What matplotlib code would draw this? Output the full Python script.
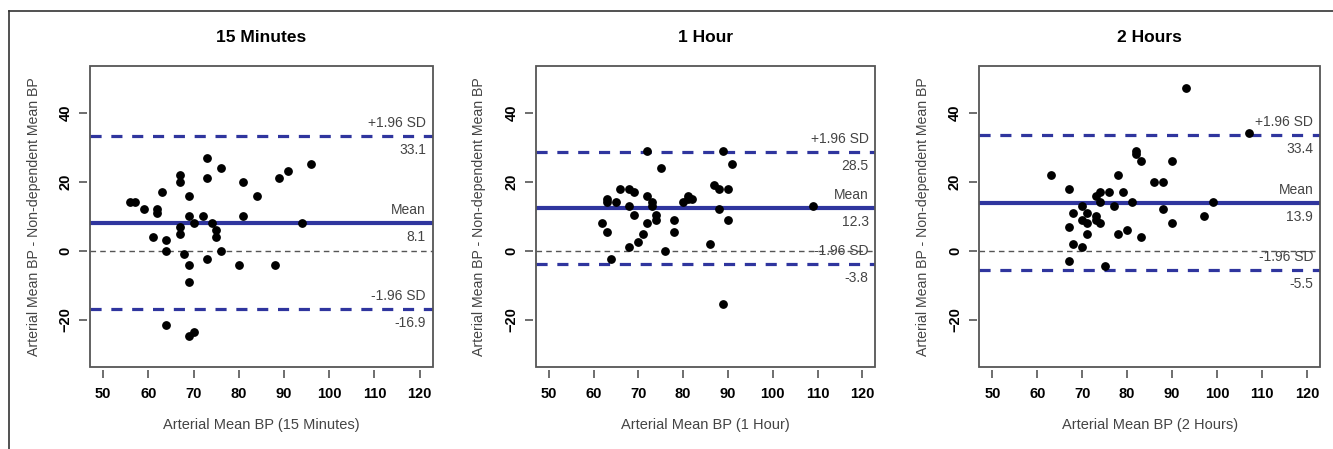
import numpy as np
import matplotlib
matplotlib.use('Agg')
import matplotlib.pyplot as plt
from matplotlib.patches import Rectangle
from matplotlib.lines import Line2D

plt.rcParams['font.family'] = ['Liberation Sans', 'DejaVu Sans']
plt.rcParams['lines.scale_dashes'] = False

# data
titles = ['15 Minutes', '1 Hour', '2 Hours']
xlabels = ['Arterial Mean BP (15 Minutes)', 'Arterial Mean BP (1 Hour)', 'Arterial Mean BP (2 Hours)']
ylabel = 'Arterial Mean BP - Non-dependent Mean BP'

x_15m = [56, 57, 59, 61, 62, 62, 63, 64, 64, 64, 67, 67, 67, 67, 68, 69, 69, 69, 69, 69,
         70, 70, 72, 73, 73, 73, 74, 75, 75, 76, 76, 80, 81, 81, 84, 88, 89, 91, 94, 96]
y_15m = [14, 14, 12, 4, 12, 11, 17, 3, 0, -21.5, 22, 20, 7, 5, -1, 16, 10, -4, -9, -24.5,
         -23.5, 8, 10, 27, 21, -2.5, 8, 6, 4, 24, 0, -4, 20, 10, 16, -4, 21, 23, 8, 25]

x_1h = [62, 63, 63, 63, 64, 65, 66, 68, 68, 68, 69, 69, 70, 71, 72, 72, 72, 73, 73, 74,
        74, 75, 76, 78, 78, 80, 81, 81, 82, 86, 87, 88, 88, 89, 89, 90, 90, 91, 109]
y_1h = [8, 15, 14, 5.5, -2.5, 14, 18, 18, 13, 1, 17, 10.5, 2.5, 5, 29, 16, 8, 14, 13, 10.5,
        9, 24, 0, 9, 5.5, 14, 16, 15, 15, 2, 19, 18, 12, 29, -15.5, 18, 9, 25, 13]

x_2h = [63, 67, 67, 67, 68, 68, 70, 70, 70, 71, 71, 71, 73, 73, 73, 74, 74, 74, 75, 76,
        77, 78, 78, 79, 80, 81, 82, 82, 83, 83, 86, 88, 88, 90, 90, 93, 97, 99, 107]
y_2h = [22, 18, 7, -3, 11, 2, 13, 9, 1, 11, 8, 5, 16, 10, 9, 17, 14, 8, -4.5, 17,
        13, 22, 5, 17, 6, 14, 29, 28, 26, 4, 20, 20, 12, 26, 8, 47, 10, 14, 34]

means = [8.1, 12.3, 13.9]
upper = [33.1, 28.5, 33.4]
lower = [-16.9, -3.8, -5.5]

xs = [x_15m, x_1h, x_2h]
ys = [y_15m, y_1h, y_2h]

blue = '#2f359e'
grey = '#555555'

fig = plt.figure(figsize=(13.33, 4.49), dpi=100)

# frame lines of the original figure (top and left)
fig.add_artist(Line2D([9/1333, 1], [1 - 10.5/449, 1 - 10.5/449], color='#333333', lw=1.2))
fig.add_artist(Line2D([9/1333, 9/1333], [0, 1 - 10.5/449], color='#333333', lw=1.2))

lefts = [90/1333, 535.7/1333, 979.3/1333]
widths = [0.2571, 0.2548, 0.2556]
bottom = 1 - 367.3/449
height = (367.3 - 66)/449

for i in range(3):
    ax = fig.add_axes([lefts[i], bottom, widths[i], height])
    ax.scatter(xs[i], ys[i], s=28, color='black', zorder=3)
    ax.axhline(0, color=grey, lw=1.0, dashes=(4, 3))
    ax.axhline(means[i], color=blue, lw=3.0)
    ax.axhline(upper[i], color=blue, lw=2.3, dashes=(8, 7))
    ax.axhline(lower[i], color=blue, lw=2.3, dashes=(8, 7))

    # labels for the lines
    for lab, val in [('+1.96 SD', upper[i]), ('Mean', means[i]), ('-1.96 SD', lower[i])]:
        ax.annotate(lab, xy=(0.98, val), xycoords=('axes fraction', 'data'),
                    xytext=(0, 4.5), textcoords='offset points', ha='right', va='bottom',
                    fontsize=10, color='#444444')
        ax.annotate('%.1f' % val, xy=(0.98, val), xycoords=('axes fraction', 'data'),
                    xytext=(0, -5), textcoords='offset points', ha='right', va='top',
                    fontsize=10, color='#444444')

    ax.set_xlim(47.1, 122.9)
    ax.set_ylim(-33.7, 53.5)
    ax.set_xticks(np.arange(50, 121, 10))
    ax.set_yticks([-20, 0, 20, 40])

    for sp in ax.spines.values():
        sp.set_visible(False)
    ax.spines['bottom'].set_position(('outward', 2))
    ax.spines['left'].set_position(('outward', 2))
    ax.add_patch(Rectangle((0, 0), 1, 1, transform=ax.transAxes, fill=False,
                           ec=grey, lw=1.3, clip_on=False, zorder=5))

    ax.tick_params(axis='both', direction='out', length=5.5, width=1.2, color=grey)
    ax.tick_params(axis='x', labelsize=10.5, pad=7)
    ax.tick_params(axis='y', labelsize=10.5, pad=5)
    for t in ax.get_xticklabels():
        t.set_fontweight('bold')
    for t in ax.get_yticklabels():
        t.set_fontweight('bold')
        t.set_rotation(90)
        t.set_va('center')

    ax.set_title(titles[i], fontsize=12.5, fontweight='bold', pad=17)
    ax.set_xlabel(xlabels[i], fontsize=10.5, color='#444444', labelpad=12)
    ax.set_ylabel(ylabel, fontsize=10.2, color='#444444', labelpad=13)

fig.savefig('out.png', dpi=100)
